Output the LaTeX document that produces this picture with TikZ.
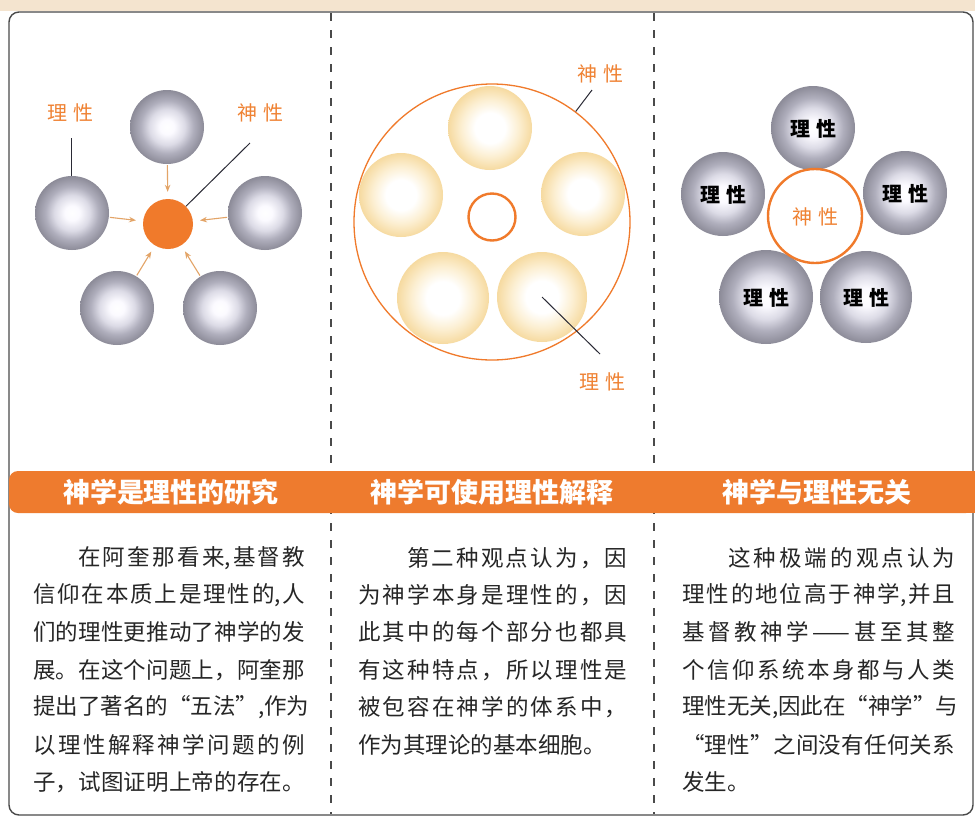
\documentclass[tikz,border=0pt]{standalone}
\usepackage{fontspec}
\newfontfamily\cjk{Noto Sans CJK SC}
\usetikzlibrary{arrows.meta}
\definecolor{ored}{HTML}{F07A2B}
\definecolor{bandc}{HTML}{EE7B2E}
\definecolor{lblc}{HTML}{EF8233}
\definecolor{arrc}{HTML}{E3A467}
\definecolor{leadc}{HTML}{2A2A35}
\definecolor{txtc}{HTML}{262626}
\definecolor{framec}{HTML}{4A4A4A}
\definecolor{topc}{HTML}{F4E4CF}
\definecolor{gin}{HTML}{FBFAFF}
\definecolor{gmid}{HTML}{DCDBE6}
\definecolor{gdark}{HTML}{AFAEBC}
\definecolor{grim}{HTML}{8C8B98}
\definecolor{ymid}{HTML}{FCEFD2}
\definecolor{yrim}{HTML}{F6DAA0}
\pgfdeclareradialshading{graysph}{\pgfpoint{0bp}{0bp}}{color(0bp)=(white); color(5bp)=(gin); color(12bp)=(gmid); color(18bp)=(gdark); color(25bp)=(grim); color(50bp)=(grim)}
\pgfdeclareradialshading{yelsph}{\pgfpoint{0bp}{0bp}}{color(0bp)=(white); color(9bp)=(white); color(17bp)=(ymid); color(25bp)=(yrim); color(50bp)=(yrim)}
\let\sprStop\relax
\def\sprStopT{\sprStop}
\def\spr#1{\sprA#1\sprStop}
\def\sprA#1{\def\sprT{#1}\ifx\sprT\sprStopT\else#1\expandafter\sprB\fi}
\def\sprB#1{\def\sprT{#1}\ifx\sprT\sprStopT\else\hfil#1\expandafter\sprB\fi}
\newcommand\jline[5]{\node[txt,anchor=west] (#1) at (#2,#3) {\hbox to #4pt{\spr{#5}}};}
\tikzset{
  gsph/.style={circle, inner sep=0pt, shading=graysph},
  ysph/.style={circle, inner sep=0pt, shading=yelsph},
  odisc/.style={circle, fill=ored, inner sep=0pt, minimum size=50pt},
  arr/.style={draw=arrc, line width=1.1pt, -{Stealth[length=7pt,width=5.5pt]}, shorten >=7pt, shorten <=1pt},
  lead/.style={draw=leadc, line width=1pt},
  olbl/.style={text=lblc, font=\cjk\fontsize{20}{20}\selectfont, inner sep=0pt},
  blbl/.style={text=black, font=\cjk\bfseries\fontsize{20}{20}\selectfont, inner sep=0pt},
  txt/.style={text=txtc, font=\cjk\fontsize{22.5}{22.5}\selectfont, inner sep=0pt},
  ttl/.style={text=white, font=\cjk\bfseries\fontsize{27}{27}\selectfont, inner sep=0pt},
  divider/.style={draw=framec, line width=1.2pt, dash pattern=on 8pt off 9pt},
  framebox/.style={draw=framec, line width=1.4pt, rounded corners=10pt},
  ocirc/.style={circle, draw=ored, inner sep=0pt}
}
\begin{document}
\begin{tikzpicture}[x=1pt,y=-1pt]
\useasboundingbox (0,0) rectangle (975,820);
\fill[white] (0,0) rectangle (975,820);
\fill[topc] (0,0) rectangle (975,11);
% dividers
\draw[divider] (331,13) -- (331,814);
\draw[divider] (654,13) -- (654,814);
\draw[framebox] (9,12) rectangle (973,815);
% title band
\fill[bandc, rounded corners=9pt] (9,471) rectangle (975,513);
\fill[bandc] (955,471) rectangle (975,513);
\node[ttl] (h1) at (171,492) {神学是理性的研究};
\node[ttl] (h2) at (492,492) {神学可使用理性解释};
\node[ttl] (h3) at (817,492) {神学与理性无关};

% ---------- column 1 ----------
\node[gsph, minimum size=74pt] (a1) at (167,127) {};
\node[gsph, minimum size=74pt] (a2) at (72,213) {};
\node[gsph, minimum size=74pt] (a3) at (265,213) {};
\node[gsph, minimum size=74pt] (a4) at (117,308) {};
\node[gsph, minimum size=74pt] (a5) at (220,308) {};
\node[odisc] (c1) at (168,224) {};
\draw[arr] (a1) -- (c1);
\draw[arr] (a2) -- (c1);
\draw[arr] (a3) -- (c1);
\draw[arr] (a4) -- (c1);
\draw[arr] (a5) -- (c1);
\node[olbl] (l1) at (70,113) {\hbox to 46pt{\spr{理性}}};
\node[olbl] (l2) at (260,113) {\hbox to 46pt{\spr{神性}}};
\coordinate (e1a) at (71,138);
\draw[lead] (e1a) -- (e1a |- a2.north);
\coordinate (e1b) at (250,143);
\draw[lead] (c1) -- (e1b);

% ---------- column 2 ----------
\node[ysph, minimum size=84pt] (y1) at (490,128) {};
\node[ysph, minimum size=84pt] (y2) at (401,195) {};
\node[ysph, minimum size=84pt] (y3) at (583,194) {};
\node[ysph, minimum size=92pt] (y4) at (443,298) {};
\node[ysph, minimum size=90pt] (y5) at (542,297) {};
\node[ocirc, line width=1.3pt, minimum size=276pt] (B) at (492,222) {};
\node[ocirc, line width=2.4pt, minimum size=47pt] (s2) at (492,217) {};
\node[olbl] (l3) at (600,74) {\hbox to 46pt{\spr{神性}}};
\node[olbl] (l4) at (602,382) {\hbox to 46pt{\spr{理性}}};
\coordinate (e2) at (592,90);
\draw[lead] (B) -- (e2);
\coordinate (e3) at (600,354);
\draw[lead] (y5.center) -- (e3);

% ---------- column 3 ----------
\node[gsph, minimum size=84pt] (g1) at (813,128) {};
\node[gsph, minimum size=84pt] (g2) at (723,194) {};
\node[gsph, minimum size=84pt] (g3) at (905,193) {};
\node[gsph, minimum size=94pt] (g4) at (766,297) {};
\node[gsph, minimum size=92pt] (g5) at (866,297) {};
\node[blbl] (gt1) at (813,129) {\hbox to 46pt{\spr{理性}}};
\node[blbl] (gt2) at (723,195) {\hbox to 46pt{\spr{理性}}};
\node[blbl] (gt3) at (905,194) {\hbox to 46pt{\spr{理性}}};
\node[blbl] (gt4) at (766,298) {\hbox to 46pt{\spr{理性}}};
\node[blbl] (gt5) at (866,298) {\hbox to 46pt{\spr{理性}}};
\node[ocirc, line width=2.4pt, minimum size=94pt] (c3) at (815,216) {};
\node[olbl] (gt6) at (815,217) {\hbox to 46pt{\spr{神性}}};

% ---------- body text ----------
\jline{t11}{78}{558}{227}{在阿奎那看{来,}基督教}
\jline{t12}{33}{595}{272}{信仰在本质上是理性{的,}人}
\jline{t13}{33}{632}{272}{们的理性更推动了神学的发}
\jline{t14}{33}{670}{272}{展。在这个问题上，阿奎那}
\jline{t15}{33}{707}{272}{提出了著名的“五法{”,}作为}
\jline{t16}{33}{745}{272}{以理性解释神学问题的例}
\jline{t17}{33}{782}{272}{子，试图证明上帝的存在。}

\jline{t21}{407}{558}{220}{第二种观点认为，因}
\jline{t22}{358}{595}{269}{为神学本身是理性的，因}
\jline{t23}{358}{632}{269}{此其中的每个部分也都具}
\jline{t24}{358}{670}{269}{有这种特点，所以理性是}
\jline{t25}{358}{707}{269}{被包容在神学的体系中，}
\node[txt,anchor=west] (t26) at (358,745) {作为其理论的基本细胞。};

\jline{t31}{728}{558}{227}{这种极端的观点认为}
\jline{t32}{682}{595}{273}{理性的地位高于神{学,}并且}
\jline{t33}{682}{632}{273}{基督教神学{——}甚至其整}
\jline{t34}{682}{670}{273}{个信仰系统本身都与人类}
\jline{t35}{682}{707}{273}{理性无{关,}因此在“神学”与}
\jline{t36}{682}{745}{273}{“理性”之间没有任何关系}
\node[txt,anchor=west] (t37) at (682,782) {发生。};
\end{tikzpicture}
\end{document}
